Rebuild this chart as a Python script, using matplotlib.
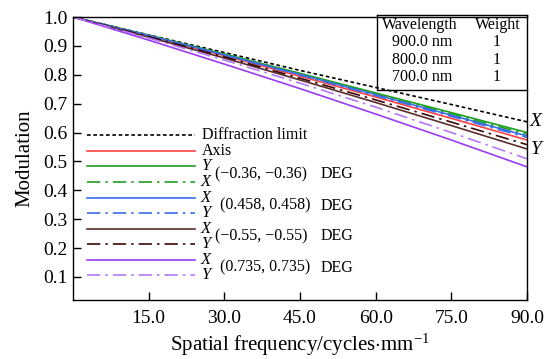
import matplotlib as mpl
mpl.use('Agg')
import matplotlib.pyplot as plt
import numpy as np

mpl.rcParams['font.family'] = 'Liberation Serif'
mpl.rcParams['mathtext.fontset'] = 'custom'
mpl.rcParams['mathtext.rm'] = 'Liberation Serif'
mpl.rcParams['mathtext.it'] = 'Liberation Serif:italic'

freq = [0, 15, 30, 45, 60, 75, 90]
diffraction = [1.0, 0.938, 0.877, 0.815, 0.756, 0.697, 0.637]
axis_mtf = [1.0, 0.934, 0.866, 0.795, 0.723, 0.649, 0.574]
f036_y = [1.0, 0.937, 0.872, 0.805, 0.737, 0.669, 0.600]
f036_x = [1.0, 0.936, 0.870, 0.802, 0.733, 0.664, 0.594]
f0458_x = [1.0, 0.936, 0.869, 0.801, 0.731, 0.660, 0.588]
f0458_y = [1.0, 0.935, 0.868, 0.799, 0.728, 0.656, 0.583]
f055_x = [1.0, 0.930, 0.858, 0.782, 0.704, 0.624, 0.543]
f055_y = [1.0, 0.932, 0.862, 0.788, 0.713, 0.636, 0.558]
f0735_x = [1.0, 0.920, 0.837, 0.752, 0.664, 0.574, 0.481]
f0735_y = [1.0, 0.927, 0.851, 0.771, 0.688, 0.600, 0.509]

wavelengths = ["900.0 nm", "800.0 nm", "700.0 nm"]
weights = ["1", "1", "1"]

dd = (8, 3, 1.5, 3)
series = [
    (diffraction, "k", (2.2, 1.6), "Diffraction limit"),
    (axis_mtf, "#ff4040", None, "Axis"),
    (f036_y, "#1fa01f", None, "Y"),
    (f036_x, "#1fa01f", dd, "X"),
    (f0458_x, "#3a6ee8", None, "X"),
    (f0458_y, "#3a6ee8", dd, "Y"),
    (f055_x, "#5a2e2e", None, "X"),
    (f055_y, "#3d0808", dd, "Y"),
    (f0735_x, "#9a3cf5", None, "X"),
    (f0735_y, "#b577f7", dd, "Y"),
]
groups = ["(\u22120.36, \u22120.36)", "(0.458, 0.458)", "(\u22120.55, \u22120.55)", "(0.735, 0.735)"]

fig = plt.figure(figsize=(5.47, 3.59), dpi=100)
ax = fig.add_axes([73/547, 1-300/359, 454/547, 283/359])

for vals, c, dash, lab in series:
    ln, = ax.plot(freq, vals, color=c, lw=1.2)
    if dash is not None:
        ln.set_dashes(dash)

ax.set_xlim(0, 90)
ax.set_ylim(0.02, 1.0)
ax.set_xticks([15, 30, 45, 60, 75, 90])
ax.set_xticklabels(["15.0", "30.0", "45.0", "60.0", "75.0", "90.0"])
ax.set_yticks(np.arange(0.1, 1.01, 0.1))
ax.set_yticklabels(["%.1f" % v for v in np.arange(0.1, 1.01, 0.1)])
ax.tick_params(axis='both', direction='in', length=6, width=1, labelsize=14)
ax.tick_params(axis='x', pad=7)
ax.tick_params(axis='y', pad=4)
for s in ax.spines.values():
    s.set_linewidth(1.0)
ax.set_xlabel(r"Spatial frequency/cycles$\cdot$mm$^{-1}$", fontsize=15, labelpad=4)
ax.set_ylabel("Modulation", fontsize=15, labelpad=6)

# hand-drawn legend
def fx(px):
    return (px - 73) / 454.0
def fy(py):
    return (300 - py) / 283.0

row_y = [135, 151, 166, 182, 198, 213, 229, 244, 260, 275]
for i, (vals, c, dash, lab) in enumerate(series):
    ln, = ax.plot([fx(87), fx(195)], [fy(row_y[i])] * 2, color=c, lw=1.2, transform=ax.transAxes)
    if dash is not None:
        ln.set_dashes(dash)
    if i < 2:
        ax.text(fx(202), fy(row_y[i]), lab, transform=ax.transAxes, fontsize=11.5, va='center')
    else:
        ax.text(fx(201), fy(row_y[i]), lab, transform=ax.transAxes, fontsize=12, va='center',
                style='italic')
for g, lab in enumerate(groups):
    ymid = (row_y[2 + 2*g] + row_y[3 + 2*g]) / 2.0
    ax.text(fx(215 if lab.startswith("(\u2212") else 220), fy(ymid), lab, transform=ax.transAxes,
            fontsize=11.5, va='center')
    ax.text(fx(321), fy(ymid), "DEG", transform=ax.transAxes, fontsize=11.5, va='center')

# wavelength box
ax.plot([fx(377), fx(377), fx(527)], [fy(15), fy(90), fy(90)], color='k', lw=1.0,
        transform=ax.transAxes, clip_on=False)
ax.plot([fx(377), fx(527)], [fy(15), fy(15)], color='k', lw=1.0, transform=ax.transAxes, clip_on=False)
ax.plot([fx(527), fx(527)], [fy(15), fy(17)], color='k', lw=1.0, transform=ax.transAxes, clip_on=False)
ax.text(fx(420), fy(25), "Wavelength", transform=ax.transAxes, fontsize=11.5, ha='center', va='center')
ax.text(fx(498), fy(25), "Weight", transform=ax.transAxes, fontsize=11.5, ha='center', va='center')
for i, w in enumerate(wavelengths):
    ax.text(fx(392), fy(42 + 17.5*i), w, transform=ax.transAxes, fontsize=11.5, va='center')
    ax.text(fx(497), fy(42 + 17.5*i), weights[i], transform=ax.transAxes, fontsize=11.5,
            ha='center', va='center')

# X / Y labels at right edge
ax.text(fx(530), fy(122), "X", transform=ax.transAxes, fontsize=14, style='italic', va='center')
ax.text(fx(531), fy(149), "Y", transform=ax.transAxes, fontsize=14, style='italic', va='center')

plt.savefig("out.png", dpi=100)
